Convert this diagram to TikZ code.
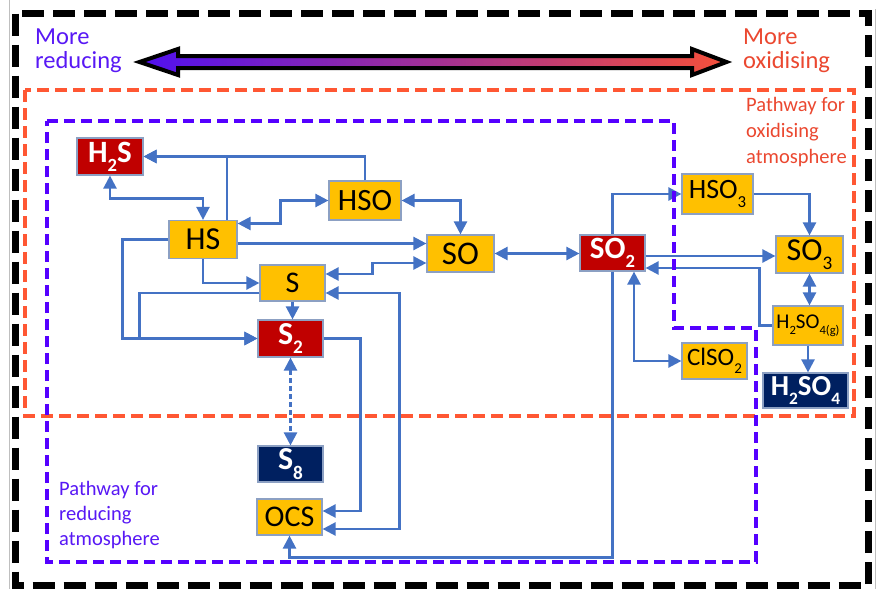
\documentclass[tikz,border=0pt]{standalone}
\usepackage{fontspec}
\setmainfont{Carlito}
\usetikzlibrary{arrows.meta}
\definecolor{lnblue}{RGB}{68,114,196}
\definecolor{boxgold}{RGB}{255,192,0}
\definecolor{boxred}{RGB}{192,0,0}
\definecolor{boxnavy}{RGB}{0,32,96}
\definecolor{boxedge}{RGB}{140,160,195}
\definecolor{redcol}{RGB}{85,0,255}
\definecolor{oxcol}{RGB}{255,87,51}
\definecolor{redtxt}{RGB}{88,24,245}
\definecolor{oxtxt}{RGB}{235,72,48}
\definecolor{gradL}{RGB}{80,16,240}
\definecolor{gradM}{RGB}{155,40,165}
\definecolor{gradR}{RGB}{245,80,58}
\newcommand{\chsub}[1]{\raisebox{-0.3em}{\scalebox{0.6}{#1}}}
\begin{document}
\begin{tikzpicture}[x=1pt,y=-1pt,
  box/.style={draw=boxedge, line width=1.2pt, inner sep=0pt},
  gbox/.style={box, fill=boxgold, text=black, font=\fontsize{#1}{#1}\selectfont},
  rbox/.style={box, fill=boxred, text=white, font=\fontsize{#1}{#1}\selectfont\bfseries},
  nbox/.style={box, fill=boxnavy, text=white, font=\fontsize{#1}{#1}\selectfont\bfseries},
  sz/.style 2 args={minimum width=#1, minimum height=#2},
  ln/.style={draw=lnblue, line width=2.4pt},
  arr/.style={ln, -{Triangle[length=13pt,width=13pt]}},
  darr/.style={ln, {Triangle[length=13pt,width=13pt]}-{Triangle[length=13pt,width=13pt]}},
  lbl/.style={anchor=north west, align=left, inner sep=0pt}
]
\useasboundingbox (0,0) rectangle (878,589);
\fill[white] (0,0) rectangle (878,589);
\draw[black!25, line width=0.8pt] (9,0) -- (9,589);
\draw[black!25, line width=0.8pt] (875,9) -- (875,589);
% outer frame
\draw[black, line width=7pt, dash pattern=on 22pt off 9pt] (15.5,13.5) rectangle (868,585.5);

% gradient arrow
\shadedraw[left color=gradL, middle color=gradM, right color=gradR, draw=black, line width=4pt]
  (139.5,62) -- (178,49) -- (178,56) -- (692,56) -- (692,49) -- (726.5,62)
  -- (692,75) -- (692,68) -- (178,68) -- (178,75) -- cycle;

% labels
\node[lbl, text=redtxt, font=\fontsize{24.5}{23.5}\selectfont] (morered) at (35,29) {More\\reducing};
\node[lbl, text=oxtxt, font=\fontsize{24.5}{23.5}\selectfont] (moreox) at (743,29) {More\\oxidising};
\node[lbl, text=oxtxt, font=\fontsize{20.5}{26}\selectfont] (pathox) at (746,97) {Pathway for\\oxidising\\atmosphere};
\node[lbl, text=redtxt, font=\fontsize{20.5}{25}\selectfont] (pathred) at (59,481) {Pathway for\\reducing\\atmosphere};

% nodes
\node[rbox=31, sz={66}{37}] (H2S) at (110,156.5) {H\chsub{2}S};
\node[gbox=31, sz={72}{39}] (HSO) at (365,200.5) {HSO};
\node[gbox=32, sz={68}{38}] (HS) at (203,239.5) {HS};
\node[gbox=30, sz={65}{36}] (S) at (292.5,283) {S};
\node[rbox=32, sz={65}{37}] (S2) at (290.5,338.5) {S\chsub{2}};
\node[gbox=33, sz={67}{37}] (SO) at (460.5,253.5) {SO};
\node[rbox=31, sz={65}{36}] (SO2) at (612.5,253) {SO\chsub{2}};
\node[gbox=28, sz={71}{40}] (HSO3) at (717.5,194) {HSO\chsub{3}};
\node[gbox=32, sz={67}{37}] (SO3) at (809.5,254.5) {SO\chsub{3}};
\node[gbox=21, sz={70}{39}] (H2SO4g) at (808,325.5) {H\chsub{2}SO\chsub{4(g)}};
\node[gbox=25, sz={65}{36}] (ClSO2) at (714.5,361) {ClSO\chsub{2}};
\node[nbox=29, sz={85}{35}] (H2SO4) at (805.5,390.5) {H\chsub{2}SO\chsub{4}};
\node[nbox=32, sz={65}{36}] (S8) at (290.5,464) {S\chsub{8}};
\node[gbox=30, sz={65}{36}] (OCS) at (289.5,517) {OCS};

% connectors
\draw[arr] (HSO.north) |- (H2S.east);
\draw[arr] ([xshift=24]HS.north) |- (H2S.east);
\draw[darr] (H2S.south) -- ++(0,23) -| (HS.north);
\draw[darr] ([yshift=16]HS.east) -- ++(43,0) |- (HSO.west);
\draw[arr] ([yshift=-4]HS.east) -- ([yshift=10]SO.west);
\draw[darr] ([yshift=9]S.east) -- ++(47,0) |- ([yshift=-9.5]SO.west);
\draw[arr] (HS.south) |- (S.west);
\draw[arr] (HS.west) -- ++(-46,0) |- (S2.west);
\draw[arr] ([yshift=-10]S.west) -- ++(-120,0) |- (S2.west);
\draw[arr] (S.south) -- (S.south |- S2.north);
\draw[darr] ([yshift=-10]S.east) -- ++(74,0) |- ([yshift=-12]OCS.east);
\draw[arr] (S2.east) -- ++(37,0) |- ([yshift=6]OCS.east);
\draw[darr, dash pattern=on 5pt off 3pt] (S2.south) -- (S8.north);
\draw[darr] (SO.east) -- (SO.east -| SO2.west);
\draw[darr] (HSO.east) -| (SO.north);
\draw[arr] (SO2.north) |- (HSO3.west);
\draw[arr] (HSO3.east) -| (SO3.north);
\draw[arr] ([yshift=-3]SO2.east) -- ([yshift=-1.5]SO3.west);
\draw[arr] (H2SO4g.west) -- ++(-13,0) |- ([yshift=-15]SO2.east);
\draw[darr] (SO3.south) -- (SO3.south |- H2SO4g.north);
\draw[arr] (H2SO4g.south) -- (H2SO4g.south |- H2SO4.north);
\draw[darr] ([xshift=21.5]SO2.south) |- (ClSO2.west);
\draw[arr] (SO2.south) -- ++(0,286) -| (OCS.south);

% pathway frames
\draw[oxcol, line width=4pt, dash pattern=on 12pt off 6pt] (25,90) rectangle (854,416);
\draw[redcol, line width=4pt, dash pattern=on 11pt off 6pt]
  (47,121) -- (674,121) -- (674,328) -- (756,328) -- (756,562) -- (47,562) -- cycle;
\end{tikzpicture}
\end{document}
